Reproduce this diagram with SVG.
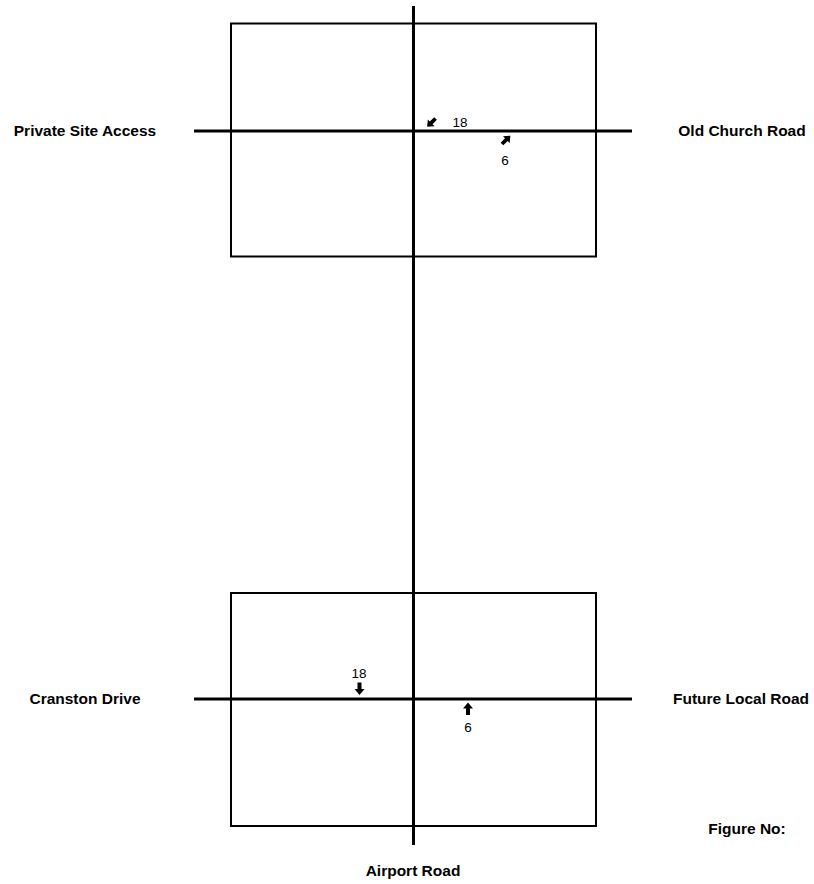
<svg xmlns="http://www.w3.org/2000/svg" width="814" height="884" viewBox="0 0 814 884">
<style>
.box{fill:none;stroke:#000;stroke-width:2}
.road{stroke:#000;stroke-width:3;fill:none}
.lbl{font-family:"Liberation Sans",Arial,sans-serif;font-weight:bold;font-size:15.5px;fill:#000;text-anchor:middle}
.num{font-family:"Liberation Sans",Arial,sans-serif;font-size:13.5px;fill:#000;text-anchor:middle}
.arr{fill:#000}
</style>
<defs>
<path id="arrUp" d="M0,-6.5 L5,-0.5 L2,-0.5 L2,6 L-2,6 L-2,-0.5 L-5,-0.5 Z"/>
</defs>
<rect width="814" height="884" fill="#fff"/>
<g id="boxes">
<rect id="box-top" class="box" x="231" y="23.5" width="365" height="233"/>
<rect id="box-bottom" class="box" x="231" y="593" width="365" height="233"/>
</g>
<g id="connectors">
<line class="road" x1="413.5" y1="6" x2="413.5" y2="845"/>
<line class="road" x1="194" y1="131" x2="632" y2="131"/>
<line class="road" x1="194" y1="699" x2="632" y2="699"/>
</g>
<g id="labels">
<text class="lbl" x="85" y="136">Private Site Access</text>
<text class="lbl" x="742" y="136">Old Church Road</text>
<text class="lbl" x="85" y="704">Cranston Drive</text>
<text class="lbl" x="741" y="704">Future Local Road</text>
<text class="lbl" x="413" y="876">Airport Road</text>
<text class="lbl" x="747" y="834">Figure No:</text>
</g>
<g id="movements">
<use href="#arrUp" class="arr" transform="translate(431.5,122.5) rotate(-135) scale(0.95)"/>
<text class="num" x="460" y="127">18</text>
<use href="#arrUp" class="arr" transform="translate(506,140) rotate(45) scale(0.95)"/>
<text class="num" x="505" y="165">6</text>
<use href="#arrUp" class="arr" transform="translate(359.5,688.5) rotate(180)"/>
<text class="num" x="359" y="678">18</text>
<use href="#arrUp" class="arr" transform="translate(468,709)"/>
<text class="num" x="468" y="732">6</text>
</g>
</svg>
